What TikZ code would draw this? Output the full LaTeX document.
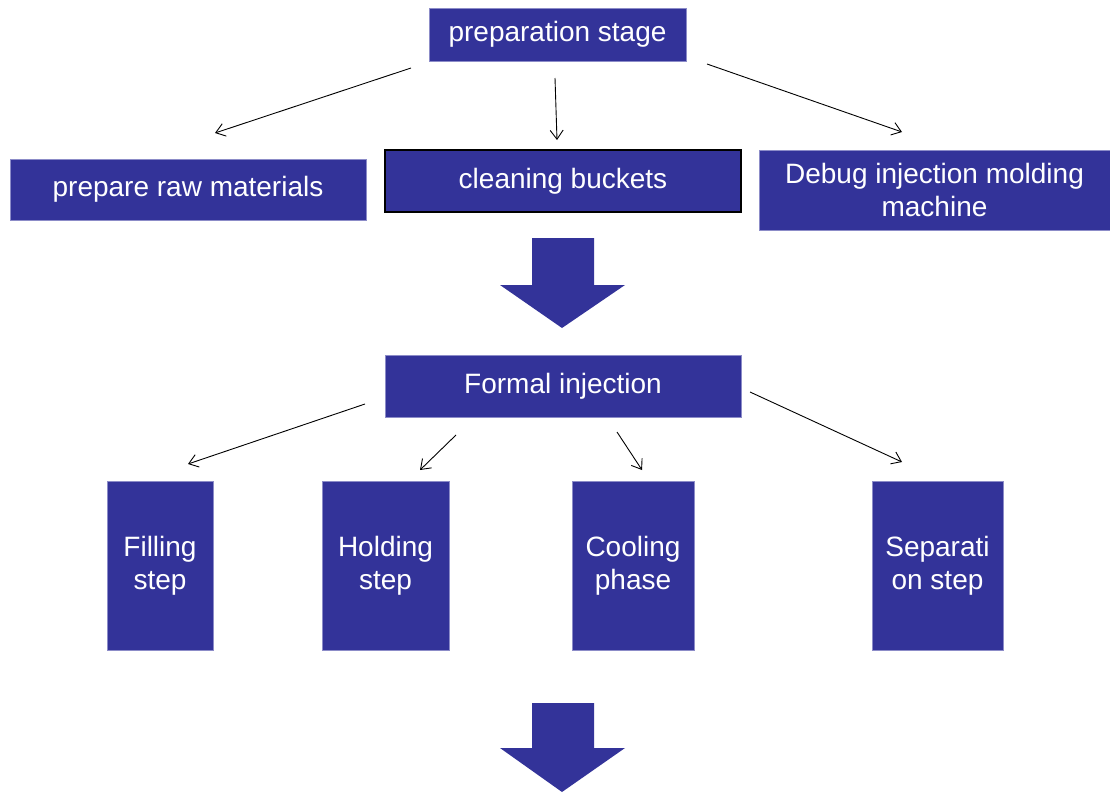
\documentclass[tikz,border=0pt]{standalone}
\usepackage{xcolor}
\usepackage{fontspec}
\setmainfont{Liberation Sans}
\usetikzlibrary{arrows.meta}
\definecolor{stageblue}{HTML}{333399}
\definecolor{stageedge}{HTML}{8C8CC8}

\begin{document}
\begin{tikzpicture}[x=1pt, y=-1pt,
  stagebox/.style={draw=stageedge, line width=0.8pt, fill=stageblue, text=white, align=center, inner sep=0pt, font=\fontsize{28}{33}\selectfont},
  link/.style={line width=0.9pt, -{Straight Barb[length=9pt, width=13pt]}}]
\useasboundingbox (0,0) rectangle (1110,792);

\node[stagebox, minimum width=257pt, minimum height=53pt] (prep) at (557.5,34.5) {preparation stage};
\node[stagebox, minimum width=356pt, minimum height=61pt] (raw) at (188,189.5) {prepare raw materials};
\node[stagebox, draw=black, line width=1.2pt, minimum width=356pt, minimum height=62pt] (clean) at (563,181) {cleaning buckets};
\node[stagebox, minimum width=351pt, minimum height=80pt] (debug) at (934.5,190) {Debug injection molding\\machine};
\node[stagebox, minimum width=356pt, minimum height=62pt] (formal) at (563,386) {Formal injection};
\node[stagebox, minimum width=106pt, minimum height=169pt] (fill) at (160,565.5) {Filling\\step};
\node[stagebox, minimum width=127pt, minimum height=169pt] (hold) at (385.5,565.5) {Holding\\step};
\node[stagebox, minimum width=122pt, minimum height=169pt] (cool) at (633,565.5) {Cooling\\phase};
\node[stagebox, minimum width=131pt, minimum height=169pt] (sep) at (937.5,565.5) {Separati\\on step};

% free ends of the thin arrows
\coordinate (p1) at (411,68);
\coordinate (p2) at (555,78);
\coordinate (p3) at (707,64);
\coordinate (r1) at (215,133);
\coordinate (c1) at (557,140);
\coordinate (d1) at (902,132);
\coordinate (f1) at (365,404);
\coordinate (f2) at (456,435);
\coordinate (f3) at (617,432);
\coordinate (f4) at (750,392);
\coordinate (s1) at (188,464);
\coordinate (s2) at (420,470);
\coordinate (s3) at (642,470);
\coordinate (s4) at (902,462);

\draw[link] (p1) -- (r1);
\draw[link] (p2) -- (c1);
\draw[link] (p3) -- (d1);
\draw[link] (f1) -- (s1);
\draw[link] (f2) -- (s2);
\draw[link] (f3) -- (s3);
\draw[link] (f4) -- (s4);

% big block arrows
\fill[stageblue] (532,238) -- (594,238) -- (594,285) -- (625,285) -- (562,328) -- (500,285) -- (532,285) -- cycle;
\fill[stageblue] (532,703) -- (594,703) -- (594,748) -- (625,748) -- (562,792) -- (500,748) -- (532,748) -- cycle;
\end{tikzpicture}
\end{document}
